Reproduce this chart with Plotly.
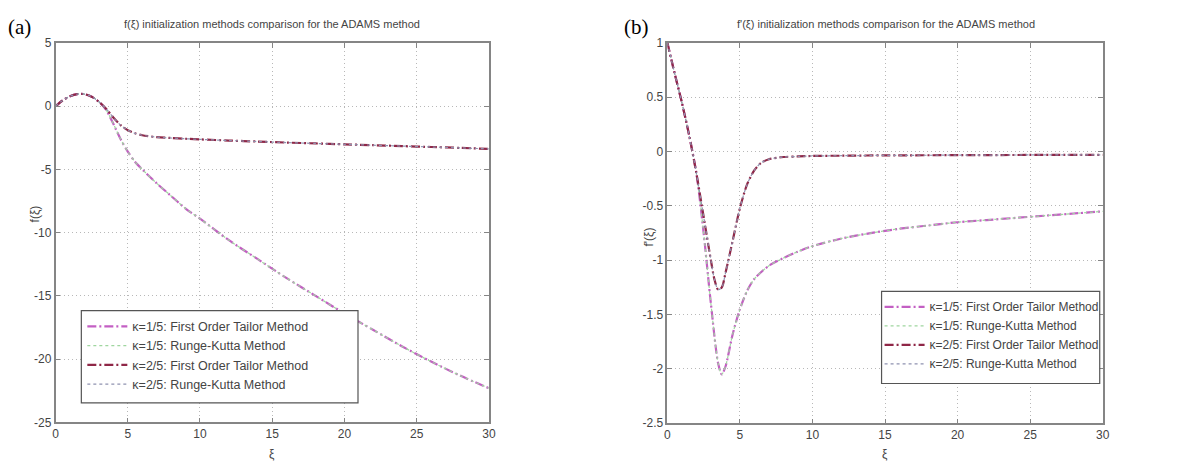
import plotly.graph_objects as go

# ---------------- data ----------------
xi_f = [0, 0.5, 1, 1.5, 2, 2.5, 3, 3.5, 4, 4.5, 5, 5.5, 6, 7, 8, 9, 10,
        12, 14, 16, 18, 20, 22, 24, 26, 28, 30]
f_k1_tailor = [0, 0.45, 0.78, 0.95, 0.95, 0.75, 0.35, -0.3, -1.4, -2.6, -3.6,
               -4.4, -5.0, -6.1, -7.1, -8.1, -8.9, -10.6, -12.1, -13.6, -15.0,
               -16.4, -17.7, -19.0, -20.2, -21.3, -22.3]
f_k1_rk = [0, 0.45, 0.78, 0.95, 0.95, 0.75, 0.35, -0.3, -1.4, -2.6, -3.6,
           -4.4, -5.0, -6.1, -7.1, -8.1, -8.9, -10.6, -12.1, -13.6, -15.0,
           -16.4, -17.7, -19.0, -20.2, -21.3, -22.3]
f_k2_tailor = [0, 0.45, 0.78, 0.95, 0.95, 0.75, 0.35, -0.2, -0.9, -1.5, -1.9,
               -2.15, -2.3, -2.45, -2.52, -2.58, -2.63, -2.72, -2.8, -2.88,
               -2.95, -3.02, -3.09, -3.16, -3.23, -3.3, -3.38]
f_k2_rk = [0, 0.45, 0.78, 0.95, 0.95, 0.75, 0.35, -0.2, -0.9, -1.5, -1.9,
           -2.15, -2.3, -2.45, -2.52, -2.58, -2.63, -2.72, -2.8, -2.88,
           -2.95, -3.02, -3.09, -3.16, -3.23, -3.3, -3.38]

xi_d1 = [0, 0.5, 1, 1.5, 2, 2.5, 3, 3.5, 3.75, 4, 4.5, 5, 5.5, 6, 7, 8, 9,
         10, 12, 14, 16, 18, 20, 22, 24, 26, 28, 30]
df_k1_tailor = [1, 0.72, 0.45, 0.15, -0.2, -0.75, -1.4, -1.95, -2.05, -1.98,
                -1.68, -1.45, -1.28, -1.17, -1.05, -0.98, -0.92, -0.87, -0.80,
                -0.75, -0.71, -0.68, -0.65, -0.63, -0.61, -0.59, -0.57, -0.55]
df_k1_rk = [1, 0.72, 0.45, 0.15, -0.2, -0.75, -1.4, -1.95, -2.05, -1.98,
            -1.68, -1.45, -1.28, -1.17, -1.05, -0.98, -0.92, -0.87, -0.80,
            -0.75, -0.71, -0.68, -0.65, -0.63, -0.61, -0.59, -0.57, -0.55]

xi_d2 = [0, 0.5, 1, 1.5, 2, 2.5, 3, 3.25, 3.5, 3.75, 4, 4.5, 5, 5.5, 6, 6.5,
         7, 8, 9, 10, 12, 15, 20, 25, 30]
df_k2_tailor = [1, 0.72, 0.45, 0.15, -0.2, -0.6, -1.0, -1.18, -1.27, -1.25,
                -1.12, -0.82, -0.52, -0.3, -0.17, -0.1, -0.07, -0.05, -0.045,
                -0.04, -0.038, -0.035, -0.033, -0.031, -0.03]
df_k2_rk = [1, 0.72, 0.45, 0.15, -0.2, -0.6, -1.0, -1.18, -1.27, -1.25,
            -1.12, -0.82, -0.52, -0.3, -0.17, -0.1, -0.07, -0.05, -0.045,
            -0.04, -0.038, -0.035, -0.033, -0.031, -0.03]

series_names = ["κ=1/5: First Order Tailor Method",
                "κ=1/5: Runge-Kutta Method",
                "κ=2/5: First Order Tailor Method",
                "κ=2/5: Runge-Kutta Method"]

x_ticks = [0, 5, 10, 15, 20, 25, 30]
y1_ticks = [5, 0, -5, -10, -15, -20, -25]
y1_ticktext = ["5", "0", "-5", "-10", "-15", "-20", "-25"]
y2_ticks = [1, 0.5, 0, -0.5, -1, -1.5, -2, -2.5]
y2_ticktext = ["1", "0.5", "0", "-0.5", "-1", "-1.5", "-2", "-2.5"]

title_a = "f(ξ) initialization methods comparison for the ADAMS method"
title_b = "f'(ξ) initialization methods comparison for the ADAMS method"

# ---------------- styles ----------------
styles = [
    dict(color="#c35fc3", width=2.2, dash="9px,3px,2px,3px"),
    dict(color="#9fd69f", width=1.2, dash="dot"),
    dict(color="#8f2747", width=2.2, dash="9px,3px,2px,3px"),
    dict(color="#8f92b0", width=1.2, dash="dot"),
]

FONT = "Liberation Sans, Arial, sans-serif"
TXT = "#444444"

fig = go.Figure()

left_sets = [(xi_f, f_k1_tailor), (xi_f, f_k1_rk), (xi_f, f_k2_tailor), (xi_f, f_k2_rk)]
right_sets = [(xi_d1, df_k1_tailor), (xi_d1, df_k1_rk), (xi_d2, df_k2_tailor), (xi_d2, df_k2_rk)]

for i, (xs, ys) in enumerate(left_sets):
    fig.add_trace(go.Scatter(x=xs, y=ys, mode="lines", name=series_names[i],
                             line=dict(shape="spline", smoothing=0.8, **styles[i]),
                             xaxis="x", yaxis="y", legend="legend"))
for i, (xs, ys) in enumerate(right_sets):
    fig.add_trace(go.Scatter(x=xs, y=ys, mode="lines", name=series_names[i],
                             line=dict(shape="spline", smoothing=0.8, **styles[i]),
                             xaxis="x2", yaxis="y2", legend="legend2"))

W, H = 1192, 472
def px_x(p): return p / W
def px_y(p): return 1 - p / H

axis_common = dict(showline=True, linecolor="#858585", linewidth=1.5, mirror="ticks",
                   ticks="inside", ticklen=5, tickcolor="#858585",
                   showgrid=True, gridcolor="#b8b8b8", griddash="1px,3px", gridwidth=1,
                   zeroline=False, tickfont=dict(family=FONT, size=12, color=TXT))

def ann(text, x, y, size=12, angle=0, family=FONT, color=TXT, xanchor="center"):
    return dict(text=text, x=px_x(x), y=px_y(y), xref="paper", yref="paper",
                xanchor=xanchor, yanchor="middle", textangle=angle, showarrow=False,
                font=dict(family=family, size=size, color=color))

def box(x0, y0, x1, y1):
    return dict(type="rect", xref="paper", yref="paper",
                x0=px_x(x0), x1=px_x(x1), y0=px_y(y1), y1=px_y(y0),
                fillcolor="white", line=dict(color="#555555", width=1.2), layer="above")

fig.update_layout(
    width=W, height=H,
    margin=dict(l=0, r=0, t=0, b=0),
    paper_bgcolor="white", plot_bgcolor="white",
    showlegend=True,
    xaxis=dict(domain=[px_x(53), px_x(490)], range=[0, 30], tickvals=x_ticks,
               anchor="y", **axis_common),
    yaxis=dict(domain=[px_y(428), px_y(37)], range=[-25, 5], tickvals=y1_ticks,
               ticktext=y1_ticktext, anchor="x", **axis_common),
    xaxis2=dict(domain=[px_x(670), px_x(1109)], range=[0, 30], tickvals=x_ticks,
                anchor="y2", **axis_common),
    yaxis2=dict(domain=[px_y(429), px_y(37)], range=[-2.5, 1], tickvals=y2_ticks,
                ticktext=y2_ticktext, anchor="x2", **axis_common),
    legend=dict(x=px_x(80), y=px_y(314), xanchor="left", yanchor="top",
                bgcolor="rgba(0,0,0,0)", borderwidth=0,
                font=dict(family=FONT, size=12.5, color=TXT),
                itemwidth=40, tracegroupgap=0),
    legend2=dict(x=px_x(884), y=px_y(294), xanchor="left", yanchor="top",
                 bgcolor="rgba(0,0,0,0)", borderwidth=0,
                 font=dict(family=FONT, size=12, color=TXT),
                 itemwidth=40, tracegroupgap=0),
    shapes=[box(79, 313, 358, 408), box(886, 293, 1106, 388)],
    annotations=[
        ann(title_a, 271, 18, size=11),
        ann(title_b, 890, 18, size=11),
        ann("(a)", 3, 21, size=21, family="Liberation Serif, Times New Roman, serif",
            color="black", xanchor="left"),
        ann("(b)", 624, 21, size=21, family="Liberation Serif, Times New Roman, serif",
            color="black", xanchor="left"),
        ann("f(ξ)", 32, 213, size=12, angle=-90),
        ann("f'(ξ)", 651, 237, size=12, angle=-90),
        ann("ξ", 271, 461, size=12),
        ann("ξ", 889, 461, size=12),
    ],
)

fig.write_html("out.html")
